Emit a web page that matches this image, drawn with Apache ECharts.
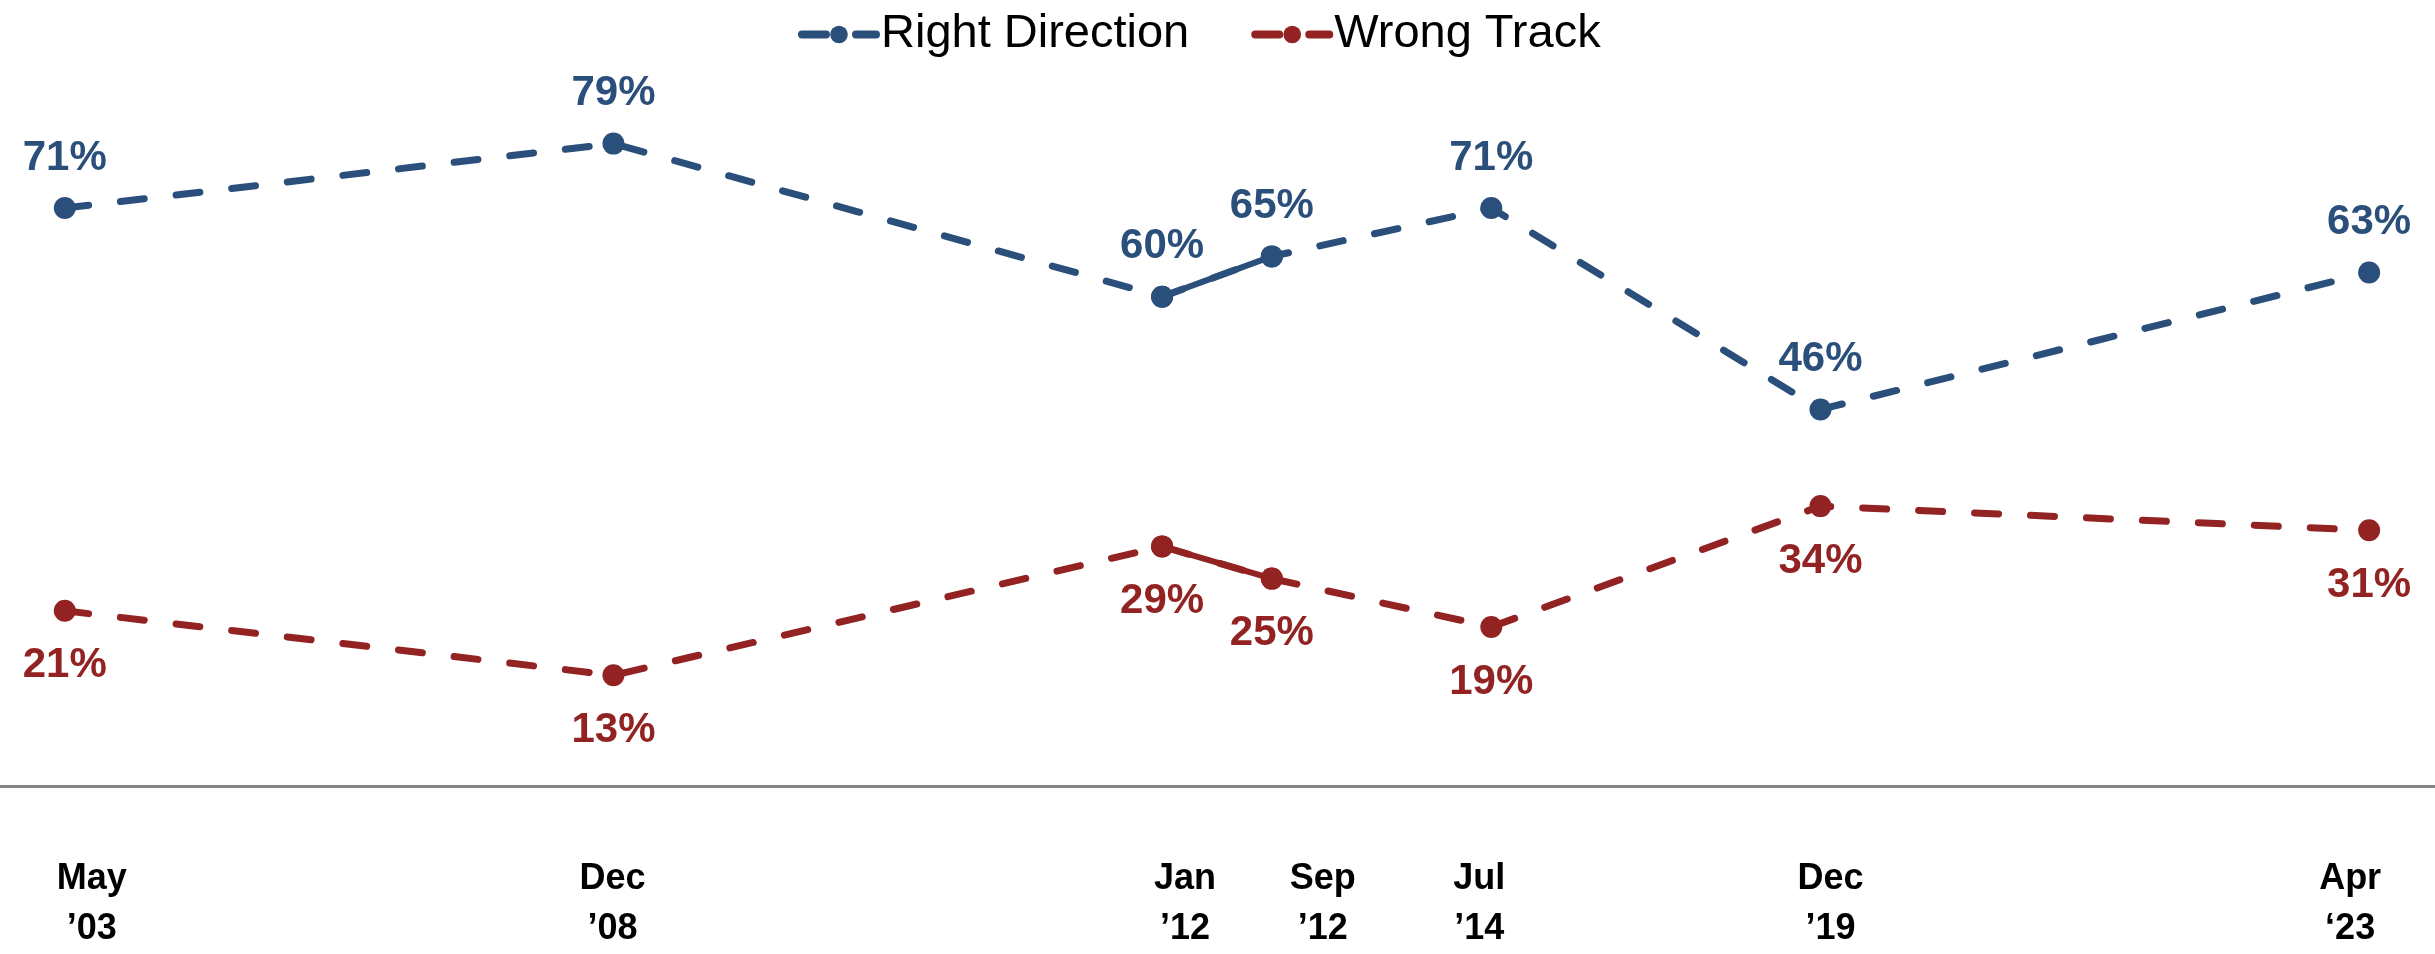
<!DOCTYPE html>
<html>
<head>
<meta charset="utf-8">
<script src="https://cdn.jsdelivr.net/npm/echarts@6/dist/echarts.min.js"></script>
<style>
  html, body { margin: 0; padding: 0; background: #ffffff; }
  #chart { width: 2435px; height: 954px; }
</style>
</head>
<body>
<div id="chart"></div>
<script>
// Survey dates laid out on an evenly spaced category axis (blank slots keep the spacing)
const categories = [
  'May\n’03', '', '', '', '', 'Dec\n’08', '', '', '', '',
  'Jan\n’12', 'Sep\n’12', '', 'Jul\n’14', '', '', 'Dec\n’19', '', '', '', '', 'Apr\n‘23'
];
const rightDirection = [
  71, null, null, null, null, 79, null, null, null, null,
  60, 65, null, 71, null, null, 46, null, null, null, null, 63
];
const wrongTrack = [
  21, null, null, null, null, 13, null, null, null, null,
  29, 25, null, 19, null, null, 34, null, null, null, null, 31
];
// period drawn with a solid line
const solidSegment = ['Jan\n’12', 'Sep\n’12'];
const seriesNames = ['Right Direction', 'Wrong Track'];

const BLUE = '#2B4F7B';
const RED = '#922322';
const FONT = 'Liberation Sans, Arial, sans-serif';

// small horizontal nudges of the axis labels, as in the original
const labelNudge = { 0: 27, 5: -1, 10: 23, 11: 51, 13: -12, 16: 10, 21: -19 };

const axisData = categories.map((c, i) => {
  const n = labelNudge[i] || 0;
  return {
    value: c,
    textStyle: { padding: n >= 0 ? [0, 0, 0, 2 * n] : [0, -2 * n, 0, 0] }
  };
});

const solidMask = categories.map(c => solidSegment.indexOf(c) >= 0);

function dashedSeries(name, data, color, pos) {
  return {
    name: name,
    type: 'line',
    data: data,
    connectNulls: true,
    symbol: 'circle',
    symbolSize: 22,
    itemStyle: { color: color },
    lineStyle: { color: color, width: 7, type: [24, 32], cap: 'round' },
    label: {
      show: true,
      position: pos,
      distance: pos === 'top' ? 18 : 23,
      formatter: '{c}%',
      color: color,
      fontFamily: FONT,
      fontWeight: 'bold',
      fontSize: 42
    },
    z: 2
  };
}
function solidSeries(name, data, color) {
  return {
    name: name + ' (solid)',
    type: 'line',
    data: data.map((v, i) => (solidMask[i] ? v : null)),
    connectNulls: false,
    symbol: 'circle',
    symbolSize: 22,
    itemStyle: { color: color },
    lineStyle: { color: color, width: 6, type: 'solid' },
    label: { show: false },
    z: 3
  };
}

const GRID_TOP = 55, GRID_BOTTOM = 168;

const chart = echarts.init(document.getElementById('chart'));
chart.setOption({
  animation: false,
  backgroundColor: '#ffffff',
  legend: {
    data: seriesNames,
    left: 793,
    top: 6,
    itemWidth: 74,
    itemHeight: 22,
    itemGap: 62,
    lineStyle: { width: 8, type: [24, 30], cap: 'round' },
    textStyle: { fontFamily: FONT, fontSize: 47, color: '#000000' }
  },
  grid: [
    { left: 0, right: 11, top: GRID_TOP, bottom: GRID_BOTTOM },
    { left: 0, right: 0, top: GRID_TOP, bottom: GRID_BOTTOM }
  ],
  xAxis: [
    {
      type: 'category',
      gridIndex: 0,
      boundaryGap: true,
      data: axisData,
      axisLine: { show: false },
      axisTick: { show: false },
      axisLabel: {
        interval: 0,
        margin: 74,
        color: '#000000',
        fontFamily: FONT,
        fontWeight: 'bold',
        fontSize: 36,
        lineHeight: 50
      },
      splitLine: { show: false }
    },
    {
      // full-width baseline
      type: 'value',
      gridIndex: 1,
      min: 0,
      max: 1,
      axisLine: { show: true, onZero: false, lineStyle: { color: '#858585', width: 3 } },
      axisTick: { show: false },
      axisLabel: { show: false },
      splitLine: { show: false }
    }
  ],
  yAxis: [
    { type: 'value', gridIndex: 0, min: 0, max: 90, show: false, splitLine: { show: false } },
    { type: 'value', gridIndex: 1, min: 0, max: 1, show: false, splitLine: { show: false } }
  ],
  series: [
    dashedSeries(seriesNames[0], rightDirection, BLUE, 'top'),
    dashedSeries(seriesNames[1], wrongTrack, RED, 'bottom'),
    solidSeries(seriesNames[0], rightDirection, BLUE),
    solidSeries(seriesNames[1], wrongTrack, RED)
  ]
});
</script>
</body>
</html>
